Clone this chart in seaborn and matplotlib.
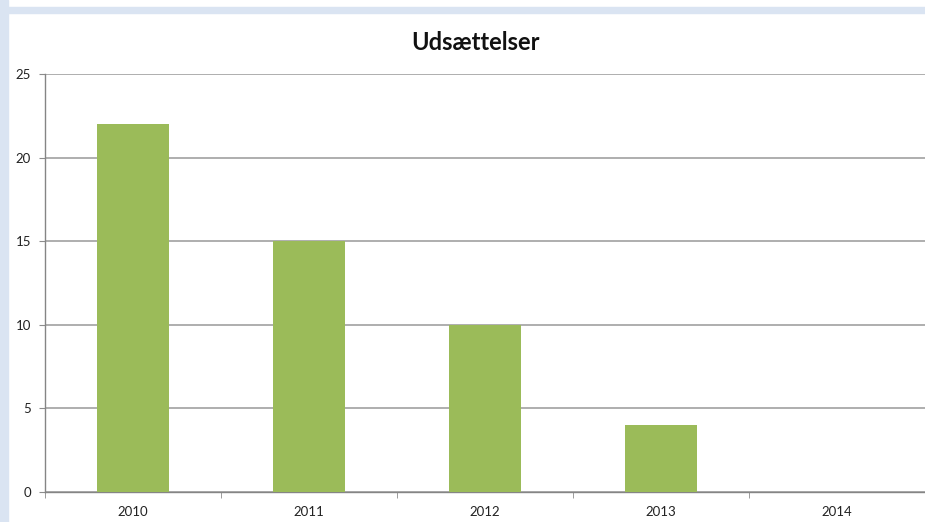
#bar chart of evictions (Udsættelser) per year
import matplotlib.pyplot as plt
import matplotlib.patches as mpatches
import pandas as pd
import seaborn as sns

#data
years = ["2010", "2011", "2012", "2013", "2014"]
counts = [22, 15, 10, 4, 0]
y_ticks = [0, 5, 10, 15, 20, 25]

df = pd.DataFrame({"year": years, "count": counts})

sns.set_style("white")
plt.rcParams["font.family"] = ["Lato", "DejaVu Sans"]

fig = plt.figure(figsize=(9.25, 5.22), dpi=100)
W, H = 925, 522

#light blue frame at the left and top, like the original screenshot
fig.patches.append(mpatches.Rectangle((0, 0), 8 / W, 1, transform=fig.transFigure,
                                      color="#dae4f2", zorder=0))
fig.patches.append(mpatches.Rectangle((8 / W, 1 - 13 / H), 1, 6 / H, transform=fig.transFigure,
                                      color="#dae4f2", zorder=0))

ax = fig.add_axes([45 / W, (H - 492) / H, 880 / W, 418 / H])

sns.barplot(data=df, x="year", y="count", color="#9bbb59", width=0.41,
            saturation=1, linewidth=0, ax=ax, zorder=3)

ax.set_xlim(-0.5, 4.5)
ax.set_ylim(0, 25)
ax.set_yticks(y_ticks)
ax.yaxis.grid(True, color="#a8a8a8", linewidth=1.3)
ax.set_axisbelow(True)

#tick marks between the categories, labels under the bars
ax.set_xticks(range(len(years)))
ax.set_xticklabels(years)
ax.set_xticks([i - 0.5 for i in range(len(years))], minor=True)
ax.tick_params(axis="x", which="major", length=0, labelsize=9.5, pad=10, labelcolor="#222222")
ax.tick_params(axis="x", which="minor", length=4, color="#8c8c8c", direction="out", bottom=True)
ax.tick_params(axis="y", length=4, color="#8c8c8c", direction="out", left=True,
               labelsize=9.5, pad=6, labelcolor="#222222")

for side in ["top", "right"]:
    ax.spines[side].set_visible(False)
for side in ["left", "bottom"]:
    ax.spines[side].set_color("#858585")
    ax.spines[side].set_linewidth(1)

ax.set_xlabel("")
ax.set_ylabel("")
fig.text(476 / W, 1 - 42 / H, "Udsættelser", ha="center", va="center",
         fontsize=17, fontweight="bold", color="#111111")

fig.savefig("out.png", dpi=100)
